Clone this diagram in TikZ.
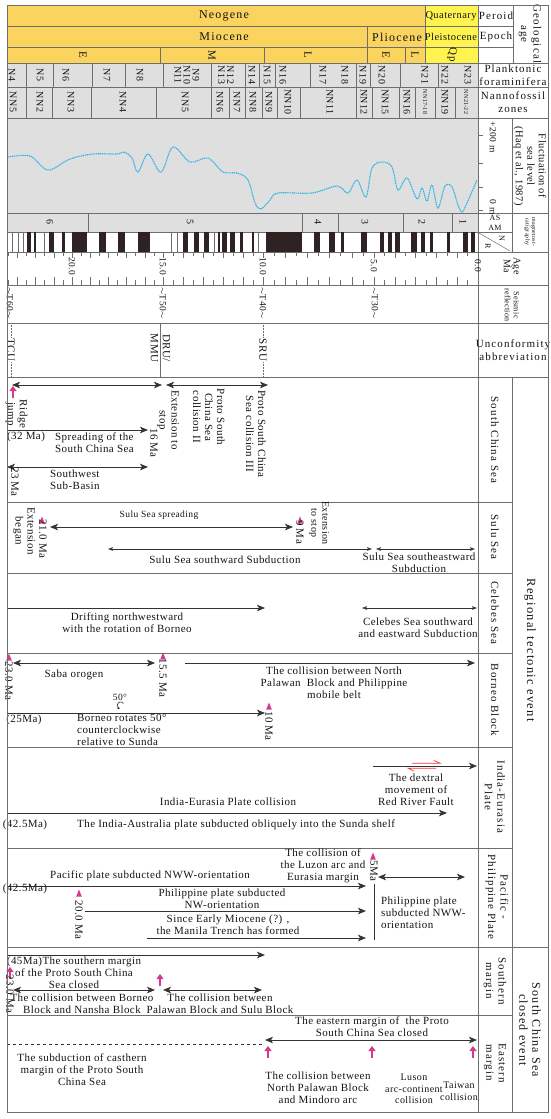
\documentclass[tikz,border=0pt]{standalone}
\usepackage{fontspec}
\setmainfont{Liberation Serif}[LetterSpace=4]
\newfontfamily\wfont{Liberation Serif}[LetterSpace=10]
\usetikzlibrary{arrows.meta}
\definecolor{neo}{HTML}{FBD35F}
\definecolor{qua}{HTML}{FFF34F}
\definecolor{gry}{HTML}{DFDFDF}
\definecolor{cya}{HTML}{2BB3E3}
\definecolor{mgt}{HTML}{D33A8C}
\definecolor{lnc}{HTML}{333333}
\definecolor{brd}{HTML}{6E6E6E}
\definecolor{blk}{HTML}{2F2222}
\definecolor{txc}{HTML}{141414}
\newcommand\mtri[2]{\fill[mgt] ({#1-2.8},{#2+3.5}) -- (#1,{#2-3.5}) -- ({#1+2.8},{#2+3.5}) -- cycle;}
\newcommand\mup[2]{\draw[mgt,line width=2.2pt,-{Triangle[length=5pt,width=7pt]}] (#1,{#2+6}) -- (#1,{#2-6});}
\begin{document}
\begin{tikzpicture}[x=1pt,y=-1pt,
  tx/.style={font=\fontsize{11}{12}\selectfont,inner sep=0pt,align=center,text=txc},
  ts/.style={font=\fontsize{9.5}{10.5}\selectfont,inner sep=0pt,align=center,text=txc},
  tw/.style={font=\wfont\fontsize{11}{12.5}\selectfont,inner sep=0pt,align=center,text=txc},
  th/.style={font=\wfont\fontsize{12}{13}\selectfont,inner sep=0pt,align=center,text=txc},
  tz/.style={font=\fontsize{10}{9}\selectfont,inner sep=0pt,align=center,text=txc,rotate=-90},
  rt/.style={rotate=-90},
  gl/.style={draw=brd,line width=0.9pt},
  tl/.style={draw=brd,line width=0.5pt},
  bigt/.tip={Stealth[length=8pt,width=6.5pt,inset=2pt]},
  smt/.tip={Stealth[length=5pt,width=3.6pt,inset=1pt]},
  arr/.style={draw=lnc,line width=0.75pt,-bigt},
  darr/.style={draw=lnc,line width=0.75pt,bigt-bigt},
  sdarr/.style={draw=lnc,line width=0.6pt,smt-smt}]
\useasboundingbox (0,0) rectangle (550,1119);
% ---------- backgrounds
\fill[neo] (7,5) rectangle (425,63);
\fill[qua] (425,5) rectangle (478,63);
\fill[gry] (7,63) rectangle (478,232);
% ---------- header lines
\draw[gl] (7,26) -- (513,26);
\draw[gl] (7,47) -- (513,47);
\draw[gl] (7,63) -- (548,63);
\draw[gl] (425,5) -- (425,63);
\draw[gl] (513,5) -- (513,63);
\draw[gl] (367,26) -- (367,63);
\draw[gl] (160,47) -- (160,63);
\draw[gl] (264,47) -- (264,63);
\draw[gl] (405,47) -- (405,63);
\foreach \y in {87,118,213,252,285,323,377,947} \draw[gl] (7,\y) -- (548,\y);
\foreach \y in {232,502,573,653,747,848,1015} \draw[gl] (7,\y) -- (512,\y);
\draw[gl] (478,5) -- (478,1112);
\draw[gl] (512,118) -- (512,252);
\draw[gl] (512,377) -- (512,1112);
\foreach \x in {26,53,92,125,163,211,245,259,275,310,356,370,400,438} \draw[tl] (\x,63) -- (\x,87);
\foreach \x in {26,52,91,156,211,229,245,262,277,300,356,372,399,415,435,455} \draw[tl] (\x,87) -- (\x,118);
\foreach \x in {88,302,338,403,452} \draw[tl] (\x,213) -- (\x,232);
% ---------- header text
\node[th] (neog) at (224,16) {Neogene};
\node[th] (mioc) at (224,37) {Miocene};
\node[th] (plio) at (397,37) {Pliocene};
\node[tx,font=\fontsize{10.5}{12}\selectfont] (quat) at (451,16) {Quaternary};
\node[tx,font=\fontsize{10.5}{12}\selectfont] (plei) at (451,37) {Pleistocene};
\node[tw] (peri) at (496,16) {Peroid};
\node[tw] (epoc) at (496,37) {Epoch};
\node[tw,rt] (geol) at (530,34) {Geological\\age};
\node[tw,rt] (em1) at (83,55) {E};
\node[tw,rt] (mm1) at (212,55) {M};
\node[tw,rt] (ml1) at (308,55) {L};
\node[tw,rt] (pe1) at (386,55) {E};
\node[tw,rt] (pl1) at (415,55) {L};
\node[tw,rt] (qp1) at (452,55) {Qp};
\node[tw] (plank) at (513,75) {Planktonic\\foraminifera};
\node[tw] (nanno) at (513,102) {Nannofossil\\zones};
% planktonic
\node[tz] (p4) at (12,75) {N4};
\node[tz] (p5) at (40,75) {N5};
\node[tz] (p6) at (66,75) {N6};
\node[tz] (p7) at (107,75) {N7};
\node[tz] (p8) at (140,75) {N8};
\node[tz] (p9) at (187,75) {N9\\N10\\N11};
\node[tz] (p12) at (226,75) {N12\\N13};
\node[tz] (p14) at (252,75) {N14};
\node[tz] (p15) at (267,75) {N15};
\node[tz] (p16) at (283,75) {N16};
\node[tz] (p17) at (323,75) {N17};
\node[tz] (p18) at (345,75) {N18};
\node[tz] (p19) at (363,75) {N19};
\node[tz] (p20) at (382,75) {N20};
\node[tz] (p21) at (425,75) {N21};
\node[tz] (p22) at (445,75) {N22};
\node[tz] (p23) at (468,75) {N23};
% nannofossil
\node[tz] (q1) at (13,102) {NN5};
\node[tz] (q2) at (40,102) {NN2};
\node[tz] (q3) at (71,102) {NN3};
\node[tz] (q4) at (123,102) {NN4};
\node[tz] (q5) at (185,102) {NN5};
\node[tz] (q6) at (220,102) {NN6};
\node[tz] (q7) at (237,102) {NN7};
\node[tz] (q8) at (253,102) {NN8};
\node[tz] (q9) at (269,102) {NN9};
\node[tz] (q10) at (288,102) {NN10};
\node[tz] (q11) at (330,102) {NN11};
\node[tz] (q12) at (364,102) {NN12};
\node[tz] (q15) at (385,102) {NN15};
\node[tz] (q16) at (407,102) {NN16};
\node[tz,font=\fontsize{6}{6}\selectfont] (q17) at (425,102) {NN17-18};
\node[tz] (q19) at (445,102) {NN19};
\node[tz,font=\fontsize{6}{6}\selectfont] (q21) at (466,102) {NN21-22};
% ---------- sea level
\draw[cya,line width=1.1pt,dash pattern=on 1.2pt off 0.7pt] plot[smooth,tension=0.55] coordinates {(8,157) (30,156) (48,170) (70,159) (93,154) (117,154) (124,152) (132,158) (138,172) (148,154) (161,172) (173,147) (190,162) (208,158) (223,172) (237,173) (248,180) (255,203) (261,209) (270,200) (278,193) (312,193) (337,186) (348,193) (357,180) (366,197) (372,168) (382,162) (392,167) (398,190) (407,178) (417,199) (422,188) (427,201) (432,185) (438,208) (445,186) (452,187) (458,205) (462,212) (467,203) (477,180)};
\foreach \y in {135,163,187,210} \draw[tl] (478,\y) -- (483,\y);
\node[ts,rt] (p200) at (493,137) {+200 m};
\node[ts,rt] (p0) at (493,207) {0 m};
\node[font=\fontsize{10.5}{11.5}\selectfont,inner sep=0pt,align=center,text=txc,rt] (fluc) at (530,166) {Fluctuation of\\sea level\\(Haq et al., 1987)};
% ---------- magnetostratigraphy
\foreach \a/\b in {27/31,34/36,49/54,62/65,72/87,99/106,118/125,138/150,183/188,194/199,204/209,218/220,222/227,230/235,240/243,252/254,266/302,314/320,329/335,341/344,361/367,380/384,388/392,395/400,411/417,421/425,430/433,447/450,463/468,471/475}
  \fill[blk] (\a,232) rectangle (\b,252);
\foreach \x in {12,18,23,44,171,177,214,258} \draw[tl,line width=0.4pt] (\x,232) -- (\x,252);
\node[tz] (c6) at (50,222) {6};
\node[tz] (c5) at (190,222) {5};
\node[tz] (c4) at (318,222) {4};
\node[tz] (c3) at (365,222) {3};
\node[tz] (c2) at (422,222) {2};
\node[tz] (c1) at (463,222) {1};
\node[ts,font=\fontsize{8}{8}\selectfont] (as) at (495,218) {AS};
\node[ts,font=\fontsize{8}{8}\selectfont] (am) at (495,228) {AM};
\draw[tl] (479,233) -- (510,251);
\node[ts,font=\fontsize{8}{8}\selectfont,rt] (nn) at (502,238) {N};
\node[ts,font=\fontsize{8}{8}\selectfont,rt] (rr) at (488,246) {R};
\node[ts,font=\fontsize{6}{6.5}\selectfont,rt] (mags) at (530,232) {magnetost-\\ratigraphy};
% ---------- age axis
\foreach \i in {0,...,47} {
  \pgfmathsetmacro\m{\i/2}
  \pgfmathsetmacro\tx{\m<=5 ? 478-20.8*\m : (\m<=10 ? 374-22.2*(\m-5) : (\m<=15 ? 263-20*(\m-10) : 163-18.2*(\m-15)))}
  \pgfmathsetmacro\tlen{mod(\i,2)==0 ? 8 : 5}
  \draw[tl] (\tx,285) -- (\tx,{285-\tlen});
  \draw[tl] (\tx,252) -- (\tx,{252+0.7*\tlen});
}
\node[ts,rt] (a20) at (72,266) {20.0};
\node[ts,rt] (a15) at (163,266) {15.0};
\node[ts,rt] (a10) at (263,266) {10.0};
\node[ts,rt] (a5) at (374,266) {5.0};
\node[ts,rt] (a0) at (478,266) {0.0};
\node[ts,font=\fontsize{10}{10}\selectfont,rt] (agema) at (512,266) {Age\\Ma};
% ---------- seismic
\node[ts,rt] (t60) at (10,303) {$\sim$T60$\sim$};
\node[ts,rt] (t50) at (163,303) {$\sim$T50$\sim$};
\node[ts,rt] (t40) at (263,303) {$\sim$T40$\sim$};
\node[ts,rt] (t30) at (375,303) {$\sim$T30$\sim$};
\node[ts,font=\fontsize{8}{9}\selectfont,rt] (seis) at (512,305) {Seismic\\reflection};
% ---------- unconformity
\draw[tl,densely dotted,line width=0.7pt] (11,323) -- (11,377);
\draw[tl,densely dotted,line width=0.7pt] (263,323) -- (263,377);
\draw[gl] (160,323) -- (160,377);
\node[tx,rt,fill=white,inner sep=1pt] (tcu) at (11,350) {TCU};
\node[tx,rt,fill=white,inner sep=1pt] (sru) at (263,350) {SRU};
\node[tx,rt] (dru) at (160.5,348) {DRU/\\MMU};
\node[tw] (unc) at (513,350) {Unconformity\\abbreviation};
% ---------- right labels
\node[tw,rt] (lscs) at (495,440) {South China Sea};
\node[tw,rt] (lsulu) at (495,537) {Sulu Sea};
\node[tw,rt] (lceleb) at (495,613) {Celebes Sea};
\node[tw,rt] (lborn) at (495,700) {Borneo Block};
\node[tw,rt] (lind) at (495,797) {India-Eurasia\\Plate};
\node[tw,rt] (lpac) at (497,897) {Pacific -\\Philippine Plate};
\node[tw,rt,font=\wfont\fontsize{12.5}{13}\selectfont] (lreg) at (530,650) {Regional tectonic event};
\node[tw,rt] (lsou) at (495,981) {Southern\\margin};
\node[tw,rt] (least) at (495,1063) {Eastern\\margin};
\node[tw,rt,font=\wfont\fontsize{12}{13}\selectfont] (lclose) at (530,1030) {South China Sea\\closed event};
% ---------- South China Sea
\coordinate (s1a) at (12,385); \coordinate (s1b) at (162,385);
\coordinate (s2a) at (166,385); \coordinate (s2b) at (268,385);
\draw[darr] (s1a) -- (s1b);
\draw[darr] (s2a) -- (s2b);
\mup{13}{392}
\node[tx,rt] (ridge) at (16.5,414) {Ridge\\jump};
\coordinate (s3a) at (7,430); \coordinate (s3b) at (148,430);
\draw[arr] (s3a) -- (s3b);
\node[tx] (ma32) at (26,437) {(32 Ma)};
\node[tx,anchor=west,align=left] (spread) at (55,443) {Spreading of the\\South China Sea};
\node[tx,rt] (ma16) at (154,443) {16 Ma};
\node[tx,rt] (extstop) at (168,420) {Extension to\\stop};
\node[tx,rt] (psc2) at (209,417) {Proto South\\China Sea\\collision II};
\node[tx,rt] (psc3) at (256,434) {Proto South China\\Sea collision III};
\coordinate (s4a) at (7,467); \coordinate (s4b) at (148,467);
\draw[darr] (s4a) -- (s4b);
\node[tx,rt] (ma23) at (15,482) {23 Ma};
\node[tx,anchor=west,align=left] (swsb) at (50,480) {Southwest\\Sub-Basin};
% ---------- Sulu Sea
\node[ts] (sspread) at (159,515) {Sulu Sea spreading};
\coordinate (u1a) at (50,527); \coordinate (u1b) at (293,527);
\draw[darr] (u1a) -- (u1b);
\mtri{42}{520}
\node[tx,rt] (ma21) at (43,539) {21.0 Ma};
\node[tx,rt] (extbeg) at (24,531) {Extension\\began};
\mtri{300}{520}
\node[tx,rt] (ma9) at (300,532) {9 Ma};
\node[ts,rt,font=\fontsize{10}{11}\selectfont] (extstop2) at (319,523) {Extension\\to stop};
\coordinate (u2a) at (108,549); \coordinate (u2b) at (372,549);
\coordinate (u3a) at (376,549); \coordinate (u3b) at (475,549);
\draw[sdarr] (u2a) -- (u2b);
\draw[sdarr] (u3a) -- (u3b);
\node[tx] (ssw) at (225,560) {Sulu Sea southward Subduction};
\node[tx] (sse) at (419,563) {Sulu Sea southeastward\\Subduction};
% ---------- Celebes Sea
\coordinate (c1a) at (7,608); \coordinate (c1b) at (265,608);
\draw[arr] (c1a) -- (c1b);
\node[tx] (drift) at (127,623) {Drifting northwestward\\with the rotation of Borneo};
\coordinate (c2a) at (362,608); \coordinate (c2b) at (477,608);
\draw[sdarr] (c2a) -- (c2b);
\node[tx] (celsub) at (418,628) {Celebes Sea southward\\and eastward Subduction};
% ---------- Borneo Block
\mtri{9}{657}
\node[tx,rt] (ma230) at (9,681) {23.0 Ma};
\coordinate (b1a) at (13,663); \coordinate (b1b) at (155,663);
\draw[darr] (b1a) -- (b1b);
\node[tx] (saba) at (74,675) {Saba orogen};
\mtri{163}{656}
\node[tx,rt] (ma155) at (163,678) {15.5 Ma};
\coordinate (b2a) at (185,663); \coordinate (b2b) at (475,663);
\draw[arr] (b2a) -- (b2b);
\node[tx] (colnp) at (334,683) {The collision between North\\Palawan\ \ Block and Philippine\\mobile belt};
\node[ts] (deg50) at (120,697) {50°};
\draw[lnc,line width=0.6pt,-{Stealth[length=3pt,width=2.5pt]}] (123.5,703.5) arc (-30:-260:3.3);
\coordinate (b3a) at (7,713); \coordinate (b3b) at (265,713);
\draw[arr] (b3a) -- (b3b);
\node[tx] (ma25) at (24,720) {(25Ma)};
\node[tx,anchor=west,align=left] (brot) at (77,730) {Borneo rotates 50°\\counterclockwise\\relative to Sunda};
\mtri{269}{706}
\node[tx,rt] (ma10) at (269,726) {10 Ma};
% ---------- India-Eurasia
\coordinate (i1a) at (373,766); \coordinate (i1b) at (477,766);
\draw[arr] (i1a) -- (i1b);
\draw[red!80!white,line width=0.7pt] (412,763.2) -- (440,763.2) -- (434,760.5);
\draw[red!80!white,line width=0.7pt] (436,768.2) -- (408,768.2) -- (414,771);
\node[tx] (dext) at (416,790) {The dextral\\movement of\\Red River Fault};
\node[tx] (iecol) at (228,802) {India-Eurasia Plate collision};
\coordinate (i2a) at (7,813); \coordinate (i2b) at (447,813);
\draw[arr] (i2a) -- (i2b);
\node[tx] (ma425a) at (25,825) {(42.5Ma)};
\node[tx,anchor=west] (iaus) at (77,825) {The India-Australia plate subducted obliquely into the Sunda shelf};
% ---------- Pacific-Philippine
\node[tx] (pacnww) at (150,876) {Pacific plate subducted NWW-orientation};
\coordinate (p1a) at (7,886); \coordinate (p1b) at (366,886);
\draw[arr] (p1a) -- (p1b);
\node[tx] (luzon) at (323,866) {The collision of\\the Luzon arc and\\Eurasia margin};
\node[tx] (ma425b) at (25,889) {(42.5Ma)};
\mtri{79}{893}
\node[tx,rt] (ma20) at (79,920) {20.0 Ma};
\node[tx] (phnw) at (222,899) {Philippine plate subducted\\NW-orientation};
\coordinate (p2a) at (85,911); \coordinate (p2b) at (366,911);
\draw[arr] (p2a) -- (p2b);
\node[tx] (manila) at (228,925) {Since Early Miocene (?) ,\\the Manila Trench has formed};
\coordinate (p3a) at (147,938); \coordinate (p3b) at (366,938);
\draw[arr] (p3a) -- (p3b);
\coordinate (v5a) at (374,884); \coordinate (v5b) at (374,940);
\draw[lnc,line width=0.75pt] (v5a) -- (v5b);
\mtri{373}{856}
\node[tx,rt] (ma5) at (374,871) {5Ma};
\coordinate (p4a) at (378,877); \coordinate (p4b) at (465,877);
\draw[darr] (p4a) -- (p4b);
\node[tx,anchor=west,align=left] (phnww) at (381,913) {Philippine plate\\subducted NWW-\\orientation};
% ---------- Southern margin
\coordinate (m1a) at (7,955); \coordinate (m1b) at (265,955);
\draw[arr] (m1a) -- (m1b);
\node[tx] (smar) at (74,973) {(45Ma)The southern margin\\of the Proto South China\\Sea closed};
\mup{10}{973}
\node[tx,rt] (ma230b) at (10,994) {23.0 Ma};
\mup{160}{980}
\coordinate (m2a) at (13,990); \coordinate (m2b) at (155,990);
\coordinate (m3a) at (163,990); \coordinate (m3b) at (262,990);
\draw[darr] (m2a) -- (m2b);
\draw[darr] (m3a) -- (m3b);
\node[tx] (colbn) at (82,1004) {The collision between Borneo\\Block and Nansha Block};
\node[tx] (colps) at (220,1004) {The collision between\\Palawan Block and Sulu Block};
% ---------- Eastern margin
\node[tx] (emar) at (372,1027) {The eastern margin of\ \ the Proto\\South China Sea closed};
\coordinate (e1a) at (265,1040); \coordinate (e1b) at (477,1040);
\draw[darr] (e1a) -- (e1b);
\coordinate (e2a) at (7,1044); \coordinate (e2b) at (265,1044);
\draw[lnc,line width=0.75pt,dashed] (e2a) -- (e2b);
\mup{268}{1052}
\mup{372}{1052}
\mup{473}{1052}
\node[tx] (subd) at (82,1070) {The subduction of casthern\\margin of the Proto South\\China Sea};
\node[tx] (colnpm) at (318,1088) {The collision between\\North Palawan Block\\and Mindoro arc};
\node[tx,font=\fontsize{10}{11.5}\selectfont] (luson) at (414,1089) {Luson\\arc-continent\\collision};
\node[tx,font=\fontsize{10}{11.5}\selectfont] (taiw) at (459,1091) {Taiwan\\collision};
% ---------- border
\draw[draw=brd,line width=1pt] (7,5) rectangle (548,1112);
\end{tikzpicture}
\end{document}
